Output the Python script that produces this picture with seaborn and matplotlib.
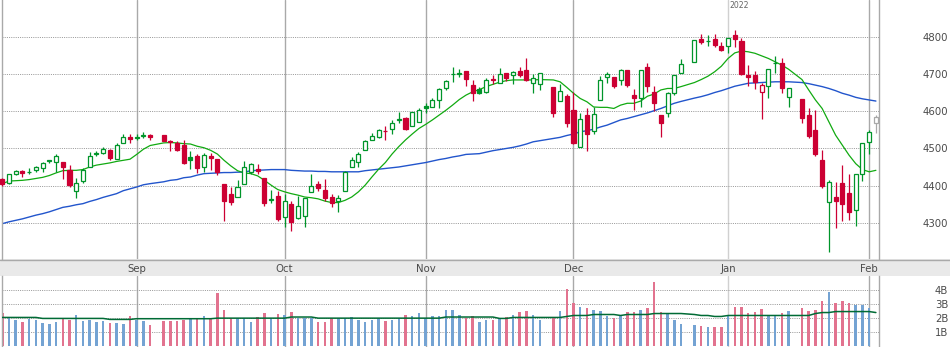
import numpy as np
import pandas as pd
import matplotlib
matplotlib.use("Agg")
import matplotlib.pyplot as plt
import matplotlib.transforms as mtransforms
from matplotlib.patches import Rectangle
import seaborn as sns

# ---------------- data ----------------
dates = (
    ["2021-08-%02d" % d for d in [4, 5, 6, 9, 10, 11, 12, 13, 16, 17, 18, 19, 20, 23, 24, 25, 26, 27, 30, 31]]
    + ["2021-09-%02d" % d for d in [1, 2, 3, 7, 8, 9, 10, 13, 14, 15, 16, 17, 20, 21, 22, 23, 24, 27, 28, 29, 30]]
    + ["2021-10-%02d" % d for d in [1, 4, 5, 6, 7, 8, 11, 12, 13, 14, 15, 18, 19, 20, 21, 22, 25, 26, 27, 28, 29]]
    + ["2021-11-%02d" % d for d in [1, 2, 3, 4, 5, 8, 9, 10, 11, 12, 15, 16, 17, 18, 19, 22, 23, 24, 26, 29, 30]]
    + ["2021-12-%02d" % d for d in [1, 2, 3, 6, 7, 8, 9, 10, 13, 14, 15, 16, 17, 20, 21, 22, 23, 27, 28, 29, 30, 31]]
    + ["2022-01-%02d" % d for d in [3, 4, 5, 6, 7, 10, 11, 12, 13, 14, 18, 19, 20, 21, 24, 25, 26, 27, 28, 31]]
    + ["2022-02-%02d" % d for d in [1, 2]]
)

opens = [4417, 4408, 4431, 4439, 4436, 4443, 4447, 4468, 4463, 4463, 4443, 4385, 4411, 4450, 4485, 4489, 4496, 4472, 4514, 4532,
         4531, 4535, 4537, 4536, 4521, 4515, 4509, 4476, 4480, 4449, 4479, 4471, 4404, 4377, 4368, 4405, 4437, 4444, 4421, 4362, 4371,
         4315, 4350, 4311, 4318, 4383, 4405, 4387, 4368, 4357, 4386, 4449, 4464, 4497, 4524, 4532, 4548, 4553, 4578, 4581, 4561, 4572,
         4614, 4613, 4631, 4662, 4700, 4701, 4709, 4671, 4660, 4653, 4688, 4677, 4703, 4699, 4709, 4712, 4677, 4675, 4665, 4629, 4641,
         4604, 4505, 4590, 4548, 4632, 4692, 4692, 4686, 4712, 4644, 4635, 4719, 4653, 4590, 4595, 4651, 4703, 4734, 4796, 4790, 4795, 4777,
         4777, 4806, 4790, 4698, 4698, 4653, 4669, 4730, 4732, 4638, 4633, 4590, 4550, 4470, 4356, 4368, 4408, 4381, 4335, 4432,
         4518, 4568]
highs = [4420, 4431, 4441, 4441, 4446, 4452, 4464, 4470, 4484, 4463, 4455, 4419, 4448, 4490, 4493, 4503, 4498, 4514, 4539, 4538,
         4540, 4545, 4540, 4537, 4523, 4521, 4522, 4493, 4486, 4488, 4488, 4471, 4404, 4395, 4416, 4466, 4461, 4458, 4421, 4387, 4386,
         4377, 4358, 4372, 4365, 4431, 4412, 4417, 4377, 4374, 4440, 4477, 4491, 4523, 4541, 4553, 4560, 4577, 4599, 4584, 4598, 4609,
         4622, 4635, 4663, 4685, 4721, 4714, 4709, 4685, 4665, 4689, 4698, 4716, 4705, 4709, 4721, 4744, 4700, 4703, 4665, 4673, 4646,
         4653, 4595, 4608, 4613, 4695, 4707, 4693, 4714, 4712, 4660, 4712, 4732, 4668, 4591, 4653, 4698, 4741, 4793, 4809, 4806, 4809, 4787,
         4797, 4820, 4797, 4725, 4709, 4676, 4714, 4750, 4743, 4663, 4633, 4610, 4604, 4495, 4416, 4410, 4455, 4431, 4432, 4516,
         4550, 4590]
lows = [4400, 4405, 4428, 4423, 4430, 4437, 4437, 4461, 4437, 4417, 4396, 4367, 4407, 4450, 4480, 4486, 4470, 4472, 4514, 4516,
        4522, 4527, 4522, 4520, 4494, 4492, 4457, 4444, 4434, 4437, 4441, 4428, 4305, 4347, 4368, 4405, 4431, 4431, 4345, 4353, 4305,
        4288, 4277, 4309, 4288, 4383, 4386, 4358, 4342, 4329, 4386, 4449, 4449, 4495, 4524, 4527, 4523, 4538, 4569, 4550, 4561, 4572,
        4595, 4611, 4608, 4659, 4680, 4692, 4669, 4629, 4647, 4650, 4674, 4677, 4682, 4673, 4694, 4683, 4650, 4659, 4586, 4629, 4559,
        4511, 4505, 4494, 4539, 4632, 4676, 4664, 4671, 4667, 4605, 4611, 4653, 4602, 4532, 4584, 4644, 4703, 4734, 4782, 4777, 4773, 4764,
        4759, 4773, 4698, 4669, 4660, 4579, 4637, 4705, 4650, 4613, 4568, 4527, 4479, 4392, 4221, 4286, 4304, 4308, 4291, 4413,
        4484, 4543]
closes = [4405, 4431, 4439, 4435, 4437, 4449, 4462, 4465, 4480, 4450, 4401, 4407, 4443, 4479, 4487, 4498, 4473, 4510, 4532, 4525,
          4527, 4537, 4532, 4521, 4518, 4495, 4461, 4470, 4446, 4482, 4475, 4437, 4359, 4356, 4395, 4449, 4458, 4440, 4353, 4363, 4309,
          4358, 4302, 4345, 4365, 4400, 4394, 4365, 4354, 4365, 4437, 4470, 4486, 4520, 4535, 4550, 4546, 4568, 4579, 4552, 4598, 4605,
          4609, 4631, 4660, 4682, 4701, 4703, 4687, 4649, 4651, 4685, 4684, 4701, 4691, 4706, 4698, 4685, 4691, 4703, 4596, 4655, 4569,
          4514, 4579, 4539, 4592, 4686, 4701, 4669, 4712, 4671, 4637, 4712, 4669, 4623, 4569, 4649, 4698, 4728, 4793, 4788, 4791, 4779, 4766,
          4797, 4796, 4701, 4694, 4680, 4671, 4714, 4731, 4662, 4663, 4581, 4533, 4485, 4398, 4410, 4359, 4351, 4329, 4432, 4516,
          4545, 4586]
ma_short = [4405, 4412, 4413, 4414, 4416, 4419, 4422, 4427, 4434, 4440, 4441, 4441, 4443, 4450, 4455, 4458, 4461, 4465, 4468, 4471,
            4484, 4498, 4508, 4515, 4516, 4515, 4513, 4512, 4506, 4502, 4495, 4485, 4468, 4453, 4440, 4434, 4432, 4426, 4414, 4401, 4389,
            4383, 4378, 4374, 4369, 4367, 4364, 4358, 4354, 4354, 4360, 4369, 4383, 4401, 4423, 4444, 4462, 4485, 4505, 4523, 4539, 4554,
            4565, 4577, 4590, 4603, 4617, 4632, 4644, 4653, 4659, 4667, 4673, 4679, 4683, 4685, 4685, 4685, 4685, 4686, 4685, 4680, 4665,
            4649, 4635, 4626, 4612, 4611, 4611, 4608, 4617, 4622, 4622, 4628, 4641, 4647, 4658, 4662, 4662, 4667, 4678, 4686, 4695, 4707, 4722,
            4743, 4758, 4763, 4761, 4757, 4750, 4743, 4734, 4725, 4714, 4686, 4658, 4631, 4608, 4572, 4536, 4509, 4482, 4459, 4443,
            4437, 4441]
ma_long = [4297, 4302, 4306, 4310, 4315, 4320, 4324, 4329, 4335, 4341, 4344, 4348, 4351, 4357, 4362, 4368, 4373, 4378, 4386, 4391,
           4396, 4402, 4405, 4410, 4414, 4416, 4421, 4423, 4428, 4432, 4433, 4434, 4435, 4435, 4436, 4436, 4440, 4441, 4442, 4443, 4443,
           4443, 4441, 4440, 4439, 4439, 4438, 4438, 4437, 4437, 4437, 4437, 4437, 4440, 4442, 4444, 4446, 4448, 4450, 4453, 4456, 4459,
           4462, 4466, 4470, 4473, 4477, 4480, 4484, 4485, 4486, 4490, 4494, 4497, 4500, 4503, 4507, 4512, 4518, 4521, 4527, 4530, 4535,
           4539, 4545, 4548, 4552, 4558, 4563, 4570, 4577, 4581, 4586, 4591, 4596, 4602, 4608, 4615, 4622, 4627, 4636, 4640, 4645, 4651, 4656,
           4662, 4668, 4672, 4676, 4677, 4678, 4679, 4680, 4680, 4680, 4678, 4675, 4671, 4667, 4662, 4656, 4649, 4644, 4638, 4634,
           4631, 4628]
volumes = [2.39, 2.04, 1.88, 1.76, 1.95, 1.88, 1.69, 1.59, 1.73, 1.95, 1.88, 2.23, 1.83, 1.88, 1.73, 1.80, 1.66, 1.66, 1.59, 2.16,
           1.88, 1.80, 1.52, 1.80, 1.80, 1.80, 1.88, 2.04, 2.04, 2.16, 1.92, 3.79, 2.58, 1.99, 1.99, 1.99, 1.73, 2.09, 2.37, 1.99, 2.30,
           2.23, 2.44, 2.04, 2.04, 1.99, 1.73, 1.73, 1.99, 1.99, 1.99, 2.09, 1.88, 1.73, 1.88, 1.99, 1.80, 1.88, 1.99, 2.23, 2.16, 2.37,
           1.99, 2.16, 2.16, 2.58, 2.58, 2.23, 2.04, 2.16, 1.73, 1.88, 1.88, 1.99, 2.09, 2.23, 2.44, 2.51, 2.23, 1.88, 1.99, 2.51, 4.09,
           3.08, 2.82, 2.75, 2.58, 2.51, 2.16, 1.99, 2.23, 2.44, 2.44, 2.58, 2.75, 4.59, 2.44, 2.30, 1.88, 1.59, 1.52, 1.45, 1.37, 1.37, 1.37,
           2.23, 2.80, 2.80, 2.37, 2.44, 2.65, 2.23, 2.23, 2.37, 2.51, 2.72, 2.51, 2.58, 3.22, 3.86, 3.08, 3.22, 3.08, 2.94, 2.94,
           2.72, np.nan]
vol_ma = [2.06] * 6 + [1.99] * 10 + [1.92] * 4 \
    + [1.97] * 11 + [2.01] * 10 \
    + [2.01] + [2.09] * 4 + [2.01] * 16 \
    + [2.01] * 3 + [2.09] * 8 + [1.99] * 2 + [2.06] * 7 + [2.13] \
    + [2.20] * 3 + [2.27] * 4 + [2.20] + [2.27] * 4 + [2.34] * 5 + [2.27] + [2.20] * 2 + [2.13] * 2 \
    + [2.20] * 12 + [2.34] + [2.41] * 2 + [2.48] * 5 \
    + [2.48, 2.41]

price_ticks = [4300, 4400, 4500, 4600, 4700, 4800]
vol_ticks = [1, 2, 3, 4]
vol_tick_labels = ["1B", "2B", "3B", "4B"]
year_label = "2022"

# ---------------- frame ----------------
df = pd.DataFrame({"date": pd.to_datetime(dates), "open": opens, "high": highs, "low": lows,
                   "close": closes, "ma_short": ma_short, "ma_long": ma_long,
                   "volume": volumes, "vol_ma": vol_ma})
# x position = weekday count since first session (holidays leave a gap)
df["pos"] = np.busday_count(np.datetime64(dates[0]), df["date"].values.astype("datetime64[D]"))
prev = df["close"].shift(1).fillna(df["open"])
df["up"] = df["close"] >= prev
df["hollow"] = df["close"] > df["open"]

sns.set_theme(style="white")
plt.rcParams["font.family"] = ["DejaVu Sans"]

W, H = 950, 347
fig = plt.figure(figsize=(W / 100, H / 100), dpi=100)
fig.patch.set_facecolor("white")


def rect(x0, y0, x1, y1):
    return [x0 / W, 1 - y1 / H, (x1 - x0) / W, (y1 - y0) / H]


GREEN = "#00952a"
RED = "#cc0033"
GREY = "#a8a8a8"
GRID = "#a9a9a9"
TXT = "#4a4a4a"

# grey date band across the full width (drawn beneath the axes)
fig.patches.append(Rectangle((0, 1 - 275.7 / H), 1, (275.7 - 259.3) / H, transform=fig.transFigure,
                             facecolor="#e9e9e9", edgecolor="none", zorder=-2))
fig.lines.append(plt.Line2D([0, 1], [1 - 259.5 / H] * 2, transform=fig.transFigure, color=GRID, lw=1.0,
                            zorder=-1))

ax = fig.add_axes(rect(2.3, 0, 879.3, 259.3))
axv = fig.add_axes(rect(2.3, 275.7, 879.3, 347))

xmax = (879.3 - 2.3) / 6.72
for a in (ax, axv):
    a.set_xlim(0, xmax)
    a.set_facecolor("none")
    a.patch.set_visible(False)
    for s in ("top", "bottom"):
        a.spines[s].set_visible(False)
    for s in ("left", "right"):
        a.spines[s].set_color(GRID)
        a.spines[s].set_linewidth(1.0)

ax.set_ylim(4200.8, 4900.8)
axv.set_ylim(-0.05, 5.04)

# month gridlines at first session of each month
first = df.groupby(df["date"].dt.to_period("M")).head(1)
first = first[first["date"] > df["date"].iloc[0]]
for _, r in first.iterrows():
    col = "#d0d0d0" if r["date"].month == 1 else GRID
    for a in (ax, axv):
        a.axvline(r["pos"], color=col, lw=1.0, zorder=1)
    if r["date"].month == 1:
        ax.text(r["pos"] + 0.2, 1 - 6 / 259.3, year_label,
                transform=mtransforms.blended_transform_factory(ax.transData, ax.transAxes),
                ha="left", va="center", fontsize=5.6, color="#666666")

# horizontal dotted gridlines
for t in price_ticks:
    ax.axhline(t, color="#9a9a9a", lw=0.72, ls=(0, (1, 1.2)), zorder=1)
for t in vol_ticks:
    axv.axhline(t, color="#9a9a9a", lw=0.72, ls=(0, (1, 1.2)), zorder=1)

# moving averages
sns.lineplot(data=df, x="pos", y="ma_long", ax=ax, color="#2255cc", lw=1.0, estimator=None, zorder=2)
sns.lineplot(data=df, x="pos", y="ma_short", ax=ax, color="#11aa11", lw=0.9, estimator=None, zorder=2)

# candles
bw = 0.6
n = len(df)
for i, r in df.iterrows():
    if i == n - 1:
        col = GREY
    else:
        col = GREEN if r["up"] else RED
    ax.vlines(r["pos"], r["low"], r["high"], color=col, lw=0.9, zorder=3, clip_on=False)
    lo, hi = min(r["open"], r["close"]), max(r["open"], r["close"])
    face = "white" if r["hollow"] else col
    ax.bar(r["pos"], hi - lo, bottom=lo, width=bw, facecolor=face, edgecolor=col, lw=0.9,
           zorder=4, clip_on=False)

# volume
vcol = np.where(df["up"], "#74a3d3", "#e2738f")
axv.bar(df["pos"], df["volume"], width=0.38, color=vcol, edgecolor="none", linewidth=0, zorder=2)
sns.lineplot(data=df, x="pos", y="vol_ma", ax=axv, color="#006b35", lw=1.1, estimator=None, zorder=3)

# axes labels
for a in (ax, axv):
    a.set_xlabel("")
    a.set_ylabel("")
    a.yaxis.tick_right()
    a.tick_params(axis="y", length=0, labelsize=7.3, labelcolor=TXT)
ax.set_yticks(price_ticks)
ax.set_yticklabels([str(t) for t in price_ticks])
ax.tick_params(axis="y", pad=31)
axv.set_yticks(vol_ticks)
axv.set_yticklabels(vol_tick_labels)
axv.tick_params(axis="y", pad=40)

ax.set_xticks(first["pos"].tolist())
ax.set_xticklabels([d.strftime("%b") for d in first["date"]])
ax.tick_params(axis="x", length=0, pad=3.2, labelsize=7.3, labelcolor=TXT, bottom=True, labelbottom=True)
axv.set_xticks([])

fig.savefig("out.png", dpi=100)
